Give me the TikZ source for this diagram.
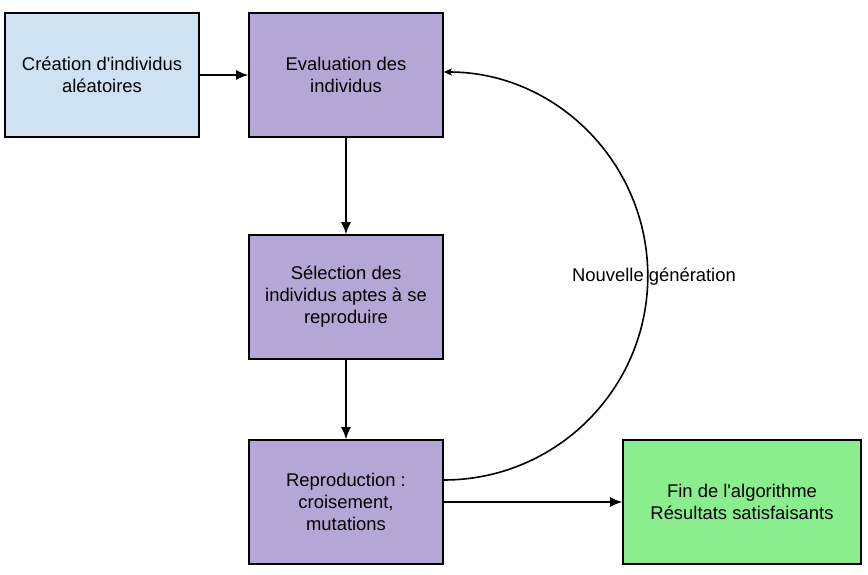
\documentclass[tikz,border=0pt]{standalone}
\usepackage{fontspec}
\setmainfont{Liberation Sans}
\usetikzlibrary{arrows.meta,calc}
\definecolor{cblue}{HTML}{CFE2F3}
\definecolor{cpurple}{HTML}{B4A7D6}
\definecolor{cgreen}{HTML}{8AEE8E}
\begin{document}
\begin{tikzpicture}[x=1pt,y=-1pt,
  box/.style={draw=black, line width=1.6pt, minimum width=194pt, minimum height=124pt, inner sep=0pt, align=center, font=\fontsize{18.4}{22}\selectfont},
  conn/.style={line width=1.5pt, -{Latex[length=12pt,width=10pt]}},
  loopc/.style={line width=1.6pt, -{Stealth[length=8pt,width=7pt,inset=2pt]}}]
\useasboundingbox (0,0) rectangle (868,575);
\node[box, fill=cblue] (b1) at (102,75) {Création d\textquotesingle individus\\aléatoires};
\node[box, fill=cpurple] (b2) at (346,75) {Evaluation des\\individus};
\node[box, fill=cpurple] (b3) at (346,297) {Sélection des\\individus aptes à se\\reproduire};
\node[box, fill=cpurple] (b4) at (346,502) {Reproduction :\\croisement,\\mutations};
\node[box, fill=cgreen, minimum width=238pt] (b5) at (742,502) {Fin de l\textquotesingle algorithme\\Résultats satisfaisants};
\draw[conn] (b1) -- (b2);
\draw[conn] (b2) -- (b3);
\draw[conn] (b3) -- (b4);
\draw[conn] (b4) -- (b5);
\coordinate (as) at ($(b4.east)+(0,-22)$);
\draw[loopc] (as) arc[start angle=90, end angle=-90, radius=204] coordinate (ae);
\node[font=\fontsize{18.4}{22}\selectfont] (lbl) at (654,277) {Nouvelle génération};
\end{tikzpicture}
\end{document}
